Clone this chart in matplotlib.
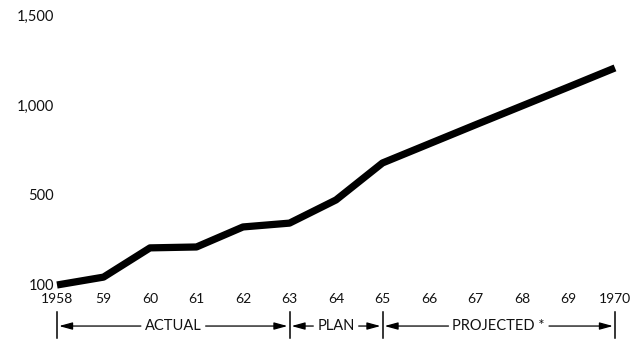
import numpy as np
import matplotlib
matplotlib.use("Agg")
import matplotlib.pyplot as plt
from matplotlib.scale import FuncScale

years = [1958, 1959, 1960, 1961, 1962, 1963, 1964, 1965, 1966, 1967, 1968, 1969, 1970]
values = [100, 135, 265, 269, 358, 375, 478, 678, 784, 890, 995, 1100, 1206]
year_labels = ["1958", "59", "60", "61", "62", "63", "64", "65", "66", "67", "68", "69", "1970"]
y_ticks = [100, 500, 1000, 1500]
y_labels = ["100", "500", "1,000", "1,500"]
periods = [(1958, 1963, "ACTUAL"), (1963, 1965, "PLAN"), (1965, 1970, "PROJECTED *")]

plt.rcParams['font.family'] = ['Lato', 'DejaVu Sans']

def fwd(v):
    v = np.asarray(v, dtype=float)
    return np.where(v >= 500, v, 500 - (500 - v) * 1.25)

def inv(p):
    p = np.asarray(p, dtype=float)
    return np.where(p >= 500, p, 500 - (500 - p) / 1.25)

fig = plt.figure(figsize=(6.31, 3.39), dpi=100)
fig.patch.set_facecolor('white')
ax = fig.add_axes([57 / 631, 54 / 339, 558 / 631, 270 / 339])
ax.set_yscale(FuncScale(ax, (fwd, inv)))
ax.plot(years, values, color='black', lw=5.2, solid_joinstyle='round',
        solid_capstyle='butt', clip_on=False)
ax.set_xlim(1958, 1970)
ax.set_ylim(100, 1500)
for s in ax.spines.values():
    s.set_visible(False)
ax.set_xticks(years)
ax.set_xticklabels(year_labels, fontsize=10)
ax.set_yticks(y_ticks)
ax.set_yticklabels(y_labels, fontsize=10.5)
ax.tick_params(axis='both', length=0, colors='#111111')
ax.tick_params(axis='x', pad=6)
ax.tick_params(axis='y', pad=2)

tr = ax.get_xaxis_transform()
ya = -0.152
fig.canvas.draw()
r = fig.canvas.get_renderer()
bars = sorted(set([p[0] for p in periods] + [p[1] for p in periods]))
for b in bars:
    ax.plot([b, b], [-0.10, -0.196], transform=tr, color='black', lw=1.1, clip_on=False)
for x0, x1, lab in periods:
    xm = (x0 + x1) / 2
    t = ax.text(xm, ya, lab, transform=tr, ha='center', va='center', fontsize=10.5,
                color='#111111')
    bb = t.get_window_extent(renderer=r)
    inv_t = ax.transData.inverted()
    lx = inv_t.transform((bb.x0 - 4, 0))[0]
    rx = inv_t.transform((bb.x1 + 4, 0))[0]
    ap = dict(arrowstyle='-|>,head_length=0.8,head_width=0.22', color='black', lw=0.9,
              shrinkA=0, shrinkB=1.5)
    ax.annotate('', xy=(x0, ya), xytext=(lx, ya), xycoords=tr, textcoords=tr,
                arrowprops=ap, annotation_clip=False)
    ax.annotate('', xy=(x1, ya), xytext=(rx, ya), xycoords=tr, textcoords=tr,
                arrowprops=ap, annotation_clip=False)

fig.savefig('out.png', dpi=100, facecolor='white')
